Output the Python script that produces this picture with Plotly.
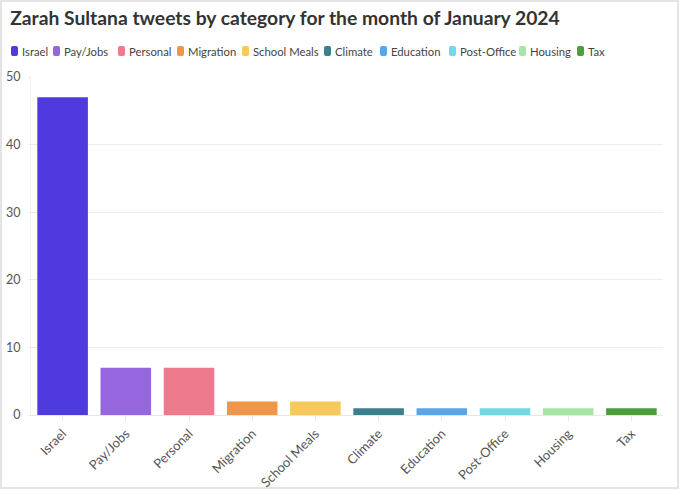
import plotly.graph_objects as go

categories = ["Israel", "Pay/Jobs", "Personal", "Migration", "School Meals",
              "Climate", "Education", "Post-Office", "Housing", "Tax"]
values = [47, 7, 7, 2, 2, 1, 1, 1, 1, 1]
colors = ["#4f3ae0", "#9566dd", "#ee7a8d", "#f0964a", "#f7c95a",
          "#3b7f8c", "#5aa5e8", "#75d7e6", "#a6e6a4", "#4b9e3b"]
y_ticks = [0, 10, 20, 30, 40, 50]

FONT = "Lato, 'Source Sans Pro', sans-serif"
W, H = 680, 490
ML, MR, MT, MB = 31, 17, 77, 75
PW, PH = W - ML - MR, H - MT - MB

def px_x(p):
    return (p - ML) / PW

def px_y(p):
    return (H - MB - p) / PH

fig = go.Figure()
for c, v, col in zip(categories, values, colors):
    fig.add_trace(go.Bar(x=[c], y=[v], name=c, showlegend=False,
                         marker=dict(color=col, line=dict(width=0))))

# custom compact legend (symbol left x in px, per entry)
legend_sym_px = [11, 53, 118, 177, 242, 324, 380, 449, 519, 577]
shapes = []
annotations = []
ly = 51
for sx, name, col in zip(legend_sym_px, categories, colors):
    x0, x1 = sx, sx + 7
    y0, y1 = ly - 5, ly + 5
    r = 2
    path = (f"M{px_x(x0 + r)},{px_y(y0)} L{px_x(x1 - r)},{px_y(y0)} "
            f"Q{px_x(x1)},{px_y(y0)} {px_x(x1)},{px_y(y0 + r)} "
            f"L{px_x(x1)},{px_y(y1 - r)} Q{px_x(x1)},{px_y(y1)} {px_x(x1 - r)},{px_y(y1)} "
            f"L{px_x(x0 + r)},{px_y(y1)} Q{px_x(x0)},{px_y(y1)} {px_x(x0)},{px_y(y1 - r)} "
            f"L{px_x(x0)},{px_y(y0 + r)} Q{px_x(x0)},{px_y(y0)} {px_x(x0 + r)},{px_y(y0)} Z")
    shapes.append(dict(type="path", xref="paper", yref="paper", path=path,
                       fillcolor=col, line=dict(width=0)))
    annotations.append(dict(xref="paper", yref="paper", x=px_x(sx + 9), y=px_y(ly),
                            xanchor="left", yanchor="middle", showarrow=False,
                            text=name, font=dict(family=FONT, size=11.3, color="#444")))

# outer frame
shapes.append(dict(type="rect", xref="paper", yref="paper",
                   x0=px_x(1), x1=px_x(678), y0=px_y(488), y1=px_y(1),
                   line=dict(color="#e4e4e4", width=2)))

fig.update_layout(
    width=W, height=H,
    barmode="overlay",
    bargap=0.2,
    showlegend=False,
    paper_bgcolor="white",
    plot_bgcolor="white",
    font=dict(family=FONT, size=13, color="#444"),
    title=dict(text="<b>Zarah Sultana tweets by category for the month of January 2024</b>",
               x=0.015, xanchor="left", y=0.963, yanchor="middle",
               font=dict(family=FONT, size=19.3, color="#333")),
    margin=dict(l=ML, r=MR, t=MT, b=MB, autoexpand=False),
    xaxis=dict(categoryorder="array", categoryarray=categories, automargin=False,
               tickangle=-45, ticks="outside", ticklen=5, tickcolor="#e6e6e6",
               showline=True, linecolor="#e6e6e6", showgrid=False,
               tickfont=dict(family=FONT, size=13, color="#555")),
    yaxis=dict(range=[0, 50], tickvals=y_ticks, showgrid=True, gridcolor="#ececec",
               zeroline=False, showline=True, linecolor="#f0f0f0", automargin=False,
               ticks="outside", ticklen=2, tickcolor="#ececec", ticklabelstandoff=5,
               tickfont=dict(family=FONT, size=12.5, color="#555")),
    shapes=shapes,
    annotations=annotations,
)

fig.write_html("out.html", config={"displayModeBar": False},
               post_script="document.body.style.margin='0';")
